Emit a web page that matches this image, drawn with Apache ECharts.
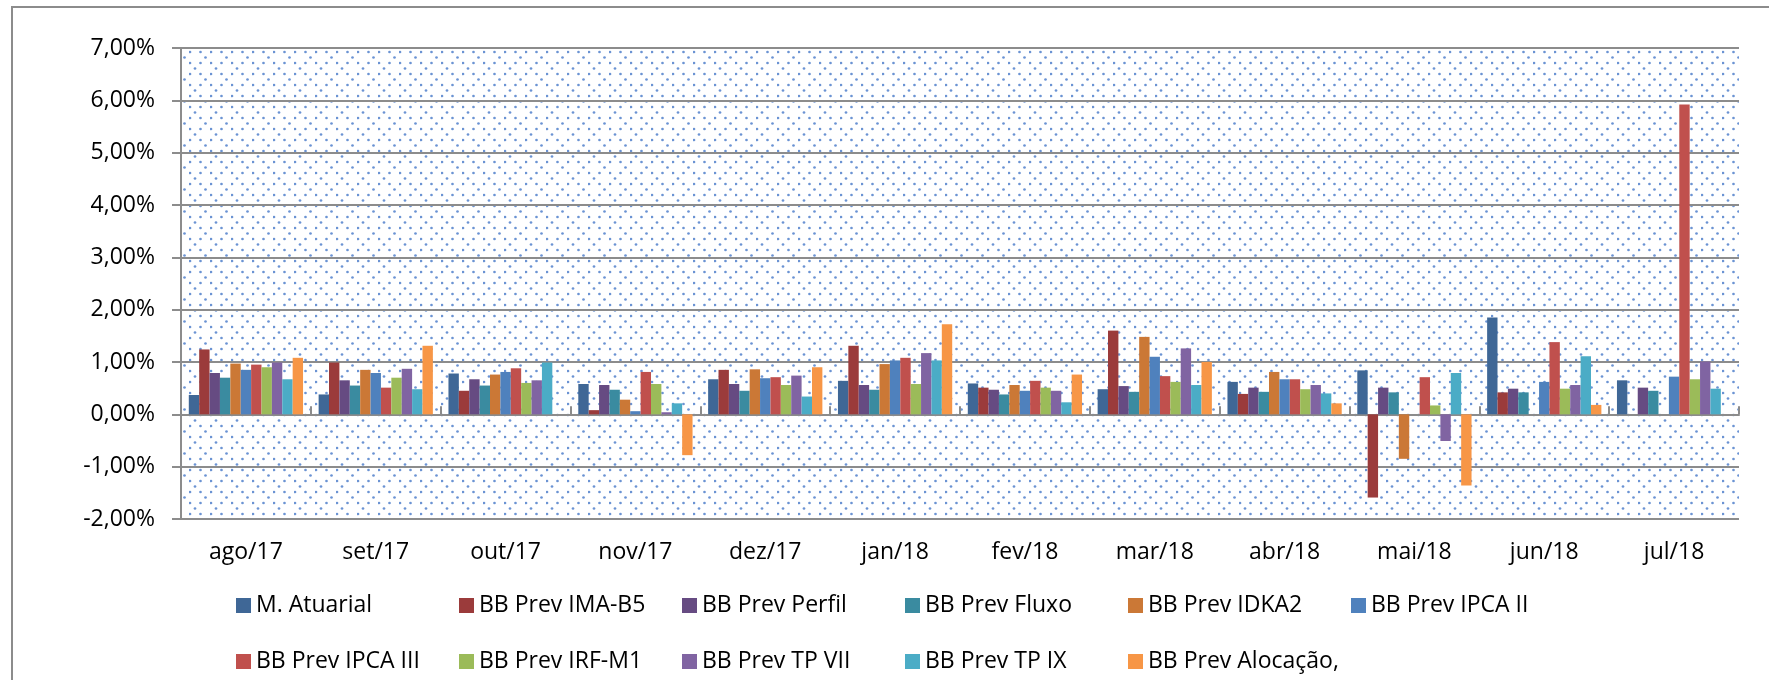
<!DOCTYPE html>
<html>
<head>
<meta charset="utf-8">
<script src="https://cdn.jsdelivr.net/npm/echarts@6/dist/echarts.min.js"></script>
<style>
  html, body { margin: 0; padding: 0; background: #fff; }
  #chart { width: 1769px; height: 680px; }
</style>
</head>
<body>
<div id="chart"></div>
<script>
// meses
const categories = ['ago/17', 'set/17', 'out/17', 'nov/17', 'dez/17', 'jan/18', 'fev/18', 'mar/18', 'abr/18', 'mai/18', 'jun/18', 'jul/18']

// rentabilidade mensal (%), null = sem valor
const mAtuarial   = [0.37, 0.38, 0.78, 0.58, 0.67, 0.64, 0.59, 0.48, 0.62, 0.84, 1.85, 0.65]
const imaB5       = [1.24, 0.99, 0.45, 0.08, 0.85, 1.31, 0.51, 1.60, 0.39, -1.59, 0.42, null]
const perfil      = [0.79, 0.65, 0.67, 0.56, 0.58, 0.56, 0.47, 0.54, 0.51, 0.51, 0.49, 0.51]
const fluxo       = [0.70, 0.55, 0.55, 0.47, 0.45, 0.47, 0.38, 0.43, 0.43, 0.42, 0.42, 0.45]
const idka2       = [0.97, 0.85, 0.76, 0.28, 0.86, 0.96, 0.56, 1.48, 0.81, -0.85, null, null]
const ipca2       = [0.85, 0.79, 0.81, 0.06, 0.69, 1.03, 0.45, 1.10, 0.67, null, 0.62, 0.72]
const ipca3       = [0.95, 0.51, 0.88, 0.81, 0.71, 1.08, 0.64, 0.73, 0.67, 0.71, 1.38, 5.92]
const irfM1       = [0.90, 0.70, 0.60, 0.58, 0.56, 0.58, 0.51, 0.62, 0.48, 0.17, 0.49, 0.67]
const tp7         = [0.99, 0.87, 0.65, 0.04, 0.74, 1.17, 0.45, 1.26, 0.56, -0.51, 0.56, 1.01]
const tp9         = [0.67, 0.48, 0.99, 0.21, 0.34, 1.03, 0.23, 0.56, 0.40, 0.79, 1.11, 0.49]
const alocacao    = [1.08, 1.31, null, -0.78, 0.90, 1.72, 0.76, 1.00, 0.21, -1.36, 0.18, null]

const seriesNames = ['M. Atuarial', 'BB Prev IMA-B5', 'BB Prev Perfil', 'BB Prev Fluxo', 'BB Prev IDKA2', 'BB Prev IPCA II',
  'BB Prev IPCA III', 'BB Prev IRF-M1', 'BB Prev TP VII', 'BB Prev TP IX', 'BB Prev Alocação,']
const seriesData = [mAtuarial, imaB5, perfil, fluxo, idka2, ipca2, ipca3, irfM1, tp7, tp9, alocacao]
const colors = ['#3f6796', '#9b3b3b', '#664b82', '#3a8ba0', '#cb7836', '#4f81bd', '#c0504d', '#9bbb59', '#8064a2', '#4bacc6', '#f79646']

const yTicks = { min: -2, max: 7, interval: 1 }

const FONT = 'Open Sans'
const gray = '#8c8c8c'

// fundo pontilhado da area de plotagem
function dotPattern() {
  const c = document.createElement('canvas')
  c.width = 21
  c.height = 22
  const ctx = c.getContext('2d')
  ctx.fillStyle = '#fff'
  ctx.fillRect(0, 0, 21, 22)
  ctx.fillStyle = 'rgba(70,120,200,0.8)'
  const dots = [[6, 2.5], [1, 8], [11.5, 8], [16.5, 13.5], [1, 19], [11.5, 19]]
  dots.forEach(([x, y]) => {
    ctx.beginPath()
    ctx.arc(x, y, 1.35, 0, Math.PI * 2)
    ctx.fill()
  })
  return c
}

// legenda em colunas como no Excel
const legendCols = [231, 454, 677, 900, 1123, 1346]
const legendRows = [589, 645]
const legends = seriesNames.map((name, i) => ({
  data: [name],
  left: legendCols[i % 6],
  top: legendRows[Math.floor(i / 6)],
  icon: 'rect',
  itemWidth: 15,
  itemHeight: 15,
  selectedMode: false,
  textStyle: { fontFamily: FONT, fontSize: 23, color: '#000' }
}))

const chart = echarts.init(document.getElementById('chart'))
chart.setOption({
  animation: false,
  color: colors,
  legend: legends,
  graphic: [{
    type: 'polyline',
    shape: { points: [[12, 680], [12, 7], [1769, 7]] },
    style: { stroke: gray, lineWidth: 2, fill: null },
    silent: true
  }],
  grid: {
    left: 181, right: 30, top: 48, bottom: 161,
    show: true,
    borderWidth: 0,
    backgroundColor: { image: dotPattern(), repeat: 'repeat' }
  },
  xAxis: [
    {
      type: 'category',
      data: categories,
      position: 'bottom',
      axisLine: { show: false, onZero: false },
      axisTick: { show: false },
      axisLabel: { fontFamily: FONT, fontSize: 23, color: '#000', margin: 22 }
    },
    {
      type: 'category',
      data: categories,
      position: 'bottom',
      axisLine: { show: true, onZero: true, lineStyle: { color: gray, width: 2 } },
      axisTick: { show: true, inside: true, length: 8, lineStyle: { color: gray, width: 2 } },
      axisLabel: { show: false }
    }
  ],
  yAxis: {
    type: 'value',
    min: yTicks.min,
    max: yTicks.max,
    interval: yTicks.interval,
    axisLine: { show: true, lineStyle: { color: gray, width: 2 } },
    axisTick: { show: true, length: 9, lineStyle: { color: gray, width: 2 } },
    splitLine: { show: true, lineStyle: { color: gray, width: 2 } },
    axisLabel: {
      fontFamily: FONT, fontSize: 23, color: '#000', margin: 26,
      formatter: v => v.toFixed(2).replace('.', ',') + '%'
    }
  },
  series: seriesNames.map((name, i) => ({
    name: name,
    type: 'bar',
    xAxisIndex: 0,
    data: seriesData[i],
    barGap: '0%',
    barCategoryGap: '12%',
    itemStyle: { color: colors[i] }
  }))
})
</script>
</body>
</html>
